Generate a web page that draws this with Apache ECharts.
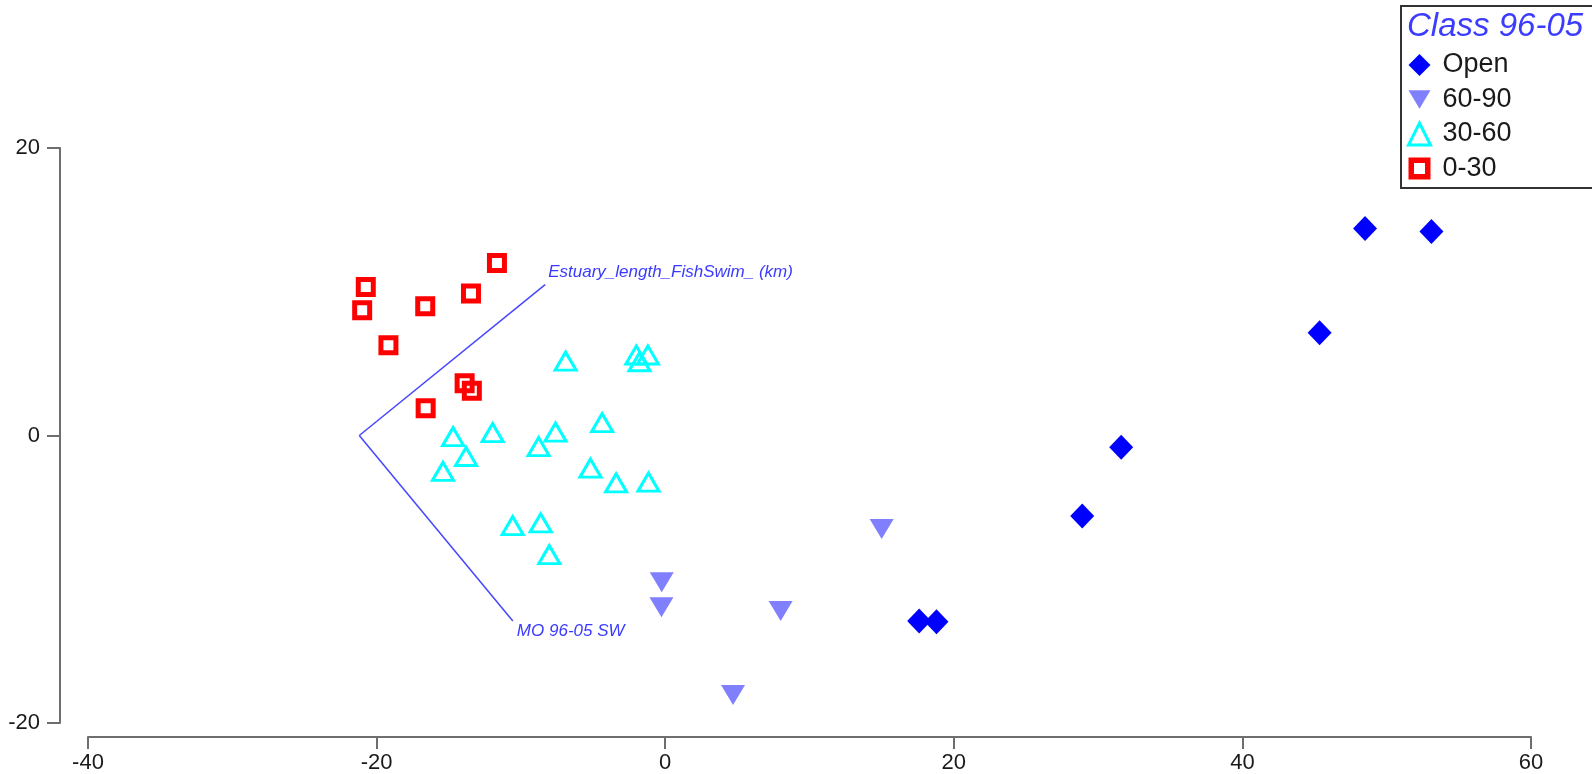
<!DOCTYPE html>
<html>
<head>
<meta charset="utf-8">
<title>Class 96-05</title>
<script src="https://cdn.jsdelivr.net/npm/echarts@6/dist/echarts.min.js"></script>
<style>
  html, body { margin: 0; padding: 0; background: #ffffff; }
  #chart { width: 1592px; height: 774px; }
</style>
</head>
<body>
<div id="chart"></div>
<script>
// Ordination scores by class (x, y)
const openPts = [[48.5, 14.4], [53.1, 14.2], [45.35, 7.15], [31.6, -0.82], [28.9, -5.6], [17.6, -12.9], [18.8, -12.95]];
const pts6090 = [[15.0, -6.5], [-0.24, -10.2], [-0.26, -11.95], [8.0, -12.2], [4.7, -18.05]];
const pts3060 = [
  [-14.7, -0.08], [-11.96, 0.2], [-13.8, -1.46], [-15.4, -2.5], [-7.6, 0.23], [-8.77, -0.77],
  [-4.37, 0.89], [-5.18, -2.27], [-3.4, -3.3], [-1.16, -3.24], [-10.57, -6.27], [-8.63, -6.08],
  [-8.03, -8.28], [-6.9, 5.17], [-2.0, 5.6], [-1.2, 5.6], [-1.78, 5.13]
];
const pts030 = [[-11.66, 12.0], [-20.75, 10.33], [-21.0, 8.71], [-16.63, 9.0], [-13.46, 9.87], [-19.18, 6.28], [-13.9, 3.63], [-13.4, 3.11], [-16.6, 1.89]];

// Vector overlay: shared origin and the two variable end points
const vectorOrigin = [-21.2, 0];
const vectorEnds = [[-8.32, 10.5], [-10.56, -12.9]];
const vectorNames = ['Estuary_length_FishSwim_ (km)', 'MO 96-05 SW'];

const classNames = ['Open', '60-90', '30-60', '0-30'];
const legendTitle = 'Class 96-05';
const xTicks = { min: -40, max: 60, interval: 20 };
const yTicks = { min: -20, max: 20, interval: 20 };

const FONT = '"Liberation Sans", Arial, sans-serif';
const axisGray = '#6e6e6e';
const vecColor = '#4646ff';

// Legend glyphs: inverted triangle and a hollow (ring) square
const ICON_DOWN_TRIANGLE = 'path://M0,0L20,0L10,17Z';
const ICON_RING_SQUARE = 'path://M0,0L20,0L20,20L0,20Z M5,5L5,15L15,15L15,5Z';

const vectorLabelOffsets = [[3, -12], [4, 10]];
const vectorSeries = vectorEnds.map((end, i) => ({
  type: 'line',
  silent: true,
  z: 1,
  showSymbol: true,
  symbol: 'circle',
  symbolSize: 0.1,
  lineStyle: { color: vecColor, width: 1.5 },
  itemStyle: { color: vecColor },
  animation: false,
  data: [
    { value: vectorOrigin, label: { show: false } },
    {
      value: end,
      label: {
        show: true,
        formatter: vectorNames[i],
        position: 'right',
        distance: 0,
        offset: vectorLabelOffsets[i],
        align: 'left',
        verticalAlign: 'middle',
        fontFamily: FONT,
        fontStyle: 'italic',
        fontSize: 17,
        color: '#3a3aff'
      }
    }
  ]
}));

const pointSeries = [
  {
    name: classNames[0], type: 'scatter', data: openPts,
    symbol: 'diamond', symbolSize: [24, 25],
    itemStyle: { color: '#0000ff', opacity: 1 }
  },
  {
    name: classNames[1], type: 'scatter', data: pts6090,
    symbol: 'triangle', symbolRotate: 180, symbolSize: [24, 20],
    itemStyle: { color: '#8080ff', opacity: 1 }
  },
  {
    name: classNames[2], type: 'scatter', data: pts3060,
    symbol: 'triangle', symbolSize: [21, 18],
    itemStyle: { color: 'rgba(0,0,0,0)', borderColor: '#00ffff', borderWidth: 3, opacity: 1 }
  },
  {
    name: classNames[3], type: 'scatter', data: pts030,
    symbol: 'rect', symbolSize: 15,
    itemStyle: { color: 'rgba(0,0,0,0)', borderColor: '#ff0000', borderWidth: 5, opacity: 1 }
  }
].map(s => Object.assign({ z: 3, animation: false, emphasis: { disabled: true } }, s));

const chart = echarts.init(document.getElementById('chart'), null, { renderer: 'canvas' });
chart.setOption({
  backgroundColor: '#ffffff',
  animation: false,
  grid: { left: 88, right: 61, top: 148, bottom: 49, containLabel: false },
  xAxis: {
    type: 'value',
    min: xTicks.min, max: xTicks.max, interval: xTicks.interval,
    offset: 14,
    splitLine: { show: false },
    axisLine: { show: true, onZero: false, lineStyle: { color: axisGray, width: 2 } },
    axisTick: { show: true, length: 12, lineStyle: { color: axisGray, width: 2 } },
    axisLabel: { margin: 15, fontFamily: FONT, fontSize: 22, color: '#1a1a1a' }
  },
  yAxis: {
    type: 'value',
    min: yTicks.min, max: yTicks.max, interval: yTicks.interval,
    offset: 28,
    splitLine: { show: false },
    axisLine: { show: true, onZero: false, lineStyle: { color: axisGray, width: 2 } },
    axisTick: { show: true, length: 13, lineStyle: { color: axisGray, width: 2 } },
    axisLabel: { margin: 20, fontFamily: FONT, fontSize: 22, color: '#1a1a1a' }
  },
  title: {
    text: legendTitle,
    left: 1407, top: 10,
    padding: 0,
    textStyle: { fontFamily: FONT, fontStyle: 'italic', fontWeight: 'normal', fontSize: 33, color: '#3c3cff' }
  },
  legend: {
    orient: 'vertical',
    left: 1407, top: 51,
    padding: 0,
    itemWidth: 22, itemHeight: 22,
    itemGap: 6.5,
    selectedMode: false,
    data: [
      { name: classNames[0] },
      { name: classNames[1], icon: ICON_DOWN_TRIANGLE },
      { name: classNames[2], itemStyle: { borderWidth: 3 } },
      { name: classNames[3], icon: ICON_RING_SQUARE, itemStyle: { color: '#ff0000', borderWidth: 0 } }
    ],
    textStyle: { fontFamily: FONT, fontSize: 27, color: '#1a1a1a', lineHeight: 28, padding: [0, 0, 0, 7] }
  },
  graphic: [{
    type: 'rect',
    z: 0,
    shape: { x: 1401, y: 6, width: 200, height: 182 },
    style: { fill: 'none', stroke: '#333333', lineWidth: 2 }
  }],
  series: vectorSeries.concat(pointSeries)
});
</script>
</body>
</html>
